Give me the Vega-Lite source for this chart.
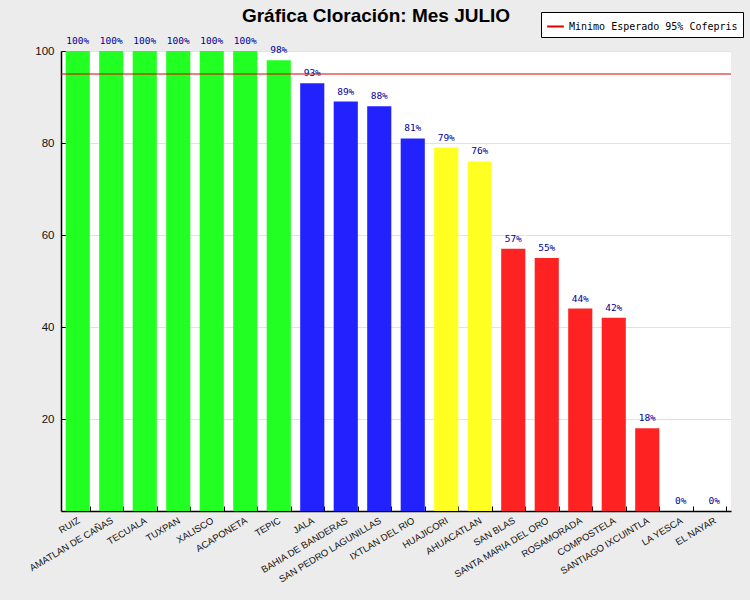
{
  "$schema": "https://vega.github.io/schema/vega-lite/v6.json",
  "width": 670,
  "height": 460,
  "autosize": {"type": "none"},
  "padding": {"left": 61, "top": 51, "right": 19, "bottom": 89},
  "background": "#ececec",
  "title": {
    "text": "Gráfica Cloración: Mes JULIO",
    "font": "Liberation Sans",
    "fontSize": 19,
    "fontWeight": "bold",
    "color": "#000000",
    "anchor": "middle",
    "frame": "group",
    "dx": -20,
    "offset": -14
  },
  "datasets": {
    "cloracion": [
      {"municipio": "RUIZ", "valor": 100, "rango": "95-100"},
      {"municipio": "AMATLAN DE CAÑAS", "valor": 100, "rango": "95-100"},
      {"municipio": "TECUALA", "valor": 100, "rango": "95-100"},
      {"municipio": "TUXPAN", "valor": 100, "rango": "95-100"},
      {"municipio": "XALISCO", "valor": 100, "rango": "95-100"},
      {"municipio": "ACAPONETA", "valor": 100, "rango": "95-100"},
      {"municipio": "TEPIC", "valor": 98, "rango": "95-100"},
      {"municipio": "JALA", "valor": 93, "rango": "80-94"},
      {"municipio": "BAHIA DE BANDERAS", "valor": 89, "rango": "80-94"},
      {"municipio": "SAN PEDRO LAGUNILLAS", "valor": 88, "rango": "80-94"},
      {"municipio": "IXTLAN DEL RIO", "valor": 81, "rango": "80-94"},
      {"municipio": "HUAJICORI", "valor": 79, "rango": "70-79"},
      {"municipio": "AHUACATLAN", "valor": 76, "rango": "70-79"},
      {"municipio": "SAN BLAS", "valor": 57, "rango": "0-69"},
      {"municipio": "SANTA MARIA DEL ORO", "valor": 55, "rango": "0-69"},
      {"municipio": "ROSAMORADA", "valor": 44, "rango": "0-69"},
      {"municipio": "COMPOSTELA", "valor": 42, "rango": "0-69"},
      {"municipio": "SANTIAGO IXCUINTLA", "valor": 18, "rango": "0-69"},
      {"municipio": "LA YESCA", "valor": 0, "rango": "0-69"},
      {"municipio": "EL NAYAR", "valor": 0, "rango": "0-69"}
    ],
    "minimo": [
      {"nombre": "Minimo Esperado 95% Cofepris", "valor": 95}
    ]
  },
  "layer": [
    {
      "data": {"name": "cloracion"},
      "mark": {"type": "bar"},
      "encoding": {
        "x": {
          "field": "municipio",
          "type": "nominal",
          "sort": null,
          "title": null,
          "scale": {"paddingInner": 0.28, "paddingOuter": 0.14},
          "axis": {
            "labelAngle": -31,
            "labelAlign": "right",
            "labelBaseline": "top",
            "labelFont": "Liberation Sans",
            "labelFontSize": 9.5,
            "labelColor": "#111111",
            "labelPadding": 9,
            "labelOffset": -2,
            "tickBand": "extent",
            "tickSize": -5,
            "tickColor": "#000000",
            "domainColor": "#000000",
            "domainWidth": 1.5,
            "grid": false
          }
        },
        "y": {
          "field": "valor",
          "type": "quantitative",
          "title": null,
          "scale": {"domain": [0, 100], "nice": false},
          "axis": {
            "values": [20, 40, 60, 80, 100],
            "labelFont": "Liberation Sans",
            "labelFontSize": 11.5,
            "labelColor": "#111111",
            "labelPadding": 12,
            "tickSize": -5,
            "tickColor": "#000000",
            "domainColor": "#000000",
            "domainWidth": 1.5,
            "grid": true,
            "gridColor": "#e2e2e2"
          }
        },
        "color": {
          "field": "rango",
          "type": "nominal",
          "scale": {
            "domain": ["95-100", "80-94", "70-79", "0-69"],
            "range": ["#22ff22", "#2222ff", "#ffff22", "#ff2222"]
          },
          "legend": null
        }
      }
    },
    {
      "data": {"name": "cloracion"},
      "transform": [{"calculate": "datum.valor + '%'", "as": "etiqueta"}],
      "mark": {
        "type": "text",
        "font": "DejaVu Sans Mono",
        "fontSize": 9.5,
        "baseline": "alphabetic",
        "dy": -7
      },
      "encoding": {
        "x": {"field": "municipio", "type": "nominal", "sort": null},
        "y": {"field": "valor", "type": "quantitative"},
        "text": {"field": "etiqueta"},
        "color": {"value": "#000099"}
      }
    },
    {
      "data": {"name": "minimo"},
      "mark": {"type": "rule", "strokeWidth": 1},
      "encoding": {
        "y": {"field": "valor", "type": "quantitative"},
        "stroke": {
          "field": "nombre",
          "type": "nominal",
          "scale": {"range": ["#dd0000"]},
          "legend": {
            "title": null,
            "orient": "none",
            "legendX": 480,
            "legendY": -39,
            "symbolType": "stroke",
            "symbolSize": 280,
            "symbolStrokeWidth": 2,
            "labelFont": "DejaVu Sans Mono",
            "labelFontSize": 10,
            "labelLimit": 400,
            "labelColor": "#000000",
            "strokeColor": "#000000",
            "fillColor": "#ffffff",
            "padding": 5
          }
        }
      }
    }
  ],
  "config": {
    "view": {"fill": "#ffffff", "stroke": null}
  }
}
